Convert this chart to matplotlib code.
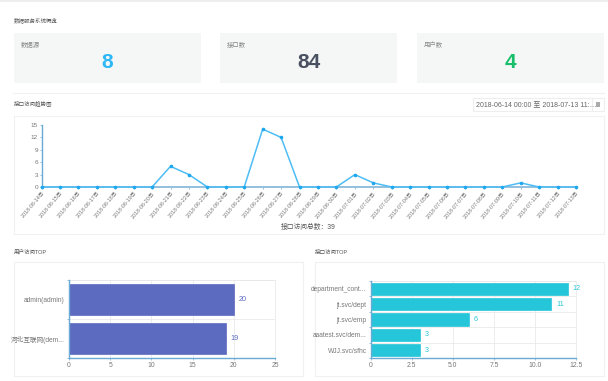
from matplotlib import pyplot as plt
from matplotlib.patches import Rectangle
import numpy as np

plt.rcParams["font.family"] = ["Liberation Sans", "Noto Sans CJK SC", "DejaVu Sans"]

W, H = 608, 381

# line chart data
DAYS = ["2018-06-%02d日" % d for d in range(14, 31)] + ["2018-07-%02d日" % d for d in range(1, 14)]
VISITS = [0, 0, 0, 0, 0, 0, 0, 5, 3, 0, 0, 0, 14, 12, 0, 0, 0, 3, 1, 0, 0, 0, 0, 0, 0, 0, 1, 0, 0, 0]

# top users
USERS = ["admin(admin)", "河北互联网(dem..."]
USER_VALUES = [20, 19]

# top interfaces
APIS = ["department_cont...", "jt.svc/dept", "jt.svc/emp", "aaatest.svc/dem...", "WJJ.svc/sfhc"]
API_VALUES = [12, 11, 6, 3, 3]

# summary cards
CARD_LABELS = ["数据源", "接口数", "用户数"]
CARD_VALUES = ["8", "84", "4"]
CARD_COLORS = ["#2db7f5", "#495060", "#19be6b"]

GRID = "#e6e6e6"
AXIS = "#6aaad4"
TEXT = "#777777"


def px_axes(fig, x0, y0, x1, y1):
    # axes placed with pixel coords, y measured from the top
    return fig.add_axes([x0 / W, 1 - y1 / H, (x1 - x0) / W, (y1 - y0) / H])


def box(bg, x0, y0, x1, y1, fc="white", ec="#f0f0f0", lw=0.8):
    bg.add_patch(Rectangle((x0, y0), x1 - x0, y1 - y0, fc=fc, ec=ec, lw=lw))


def draw_background(bg):
    bg.set_xlim(0, W)
    bg.set_ylim(H, 0)
    bg.axis("off")

    bg.add_patch(Rectangle((0, 0), W, 1.5, fc="#eeeeee", ec="none"))
    bg.text(14, 20, "数据服务系统概览", fontsize=4.0, color="#555555", va="center")

    cards = [(13.5, 200.5), (220, 397), (417, 604)]
    for (x0, x1), label, value, color in zip(cards, CARD_LABELS, CARD_VALUES, CARD_COLORS):
        box(bg, x0, 33, x1, 83, fc="#f5f7f7", ec="none")
        bg.text(x0 + 7, 44.5, label, fontsize=4.6, color="#888888", va="center")
        bg.text((x0 + x1) / 2, 63, value, fontsize=15, color=color, va="center",
                ha="center", fontweight="bold")

    bg.plot([13, 604], [92.5, 92.5], color="#f0f0f0", lw=0.8)
    bg.text(14, 103, "接口访问趋势图", fontsize=4.0, color="#555555", va="center")
    box(bg, 473, 98, 592, 111, ec="#eeeeee")
    bg.text(476, 104.5, "2018-06-14 00:00 至 2018-07-13 11:…", fontsize=5.0, color="#666666",
            va="center")
    box(bg, 592, 98, 604, 111, ec="#eeeeee")
    bg.add_patch(Rectangle((595.5, 102), 4.5, 4.5, fc="#aaaaaa", ec="none"))

    box(bg, 13.5, 116, 604, 233.5)
    bg.text(308, 227, "接口访问总数：39", fontsize=4.9, color="#555555", ha="center", va="center")

    bg.text(14, 252, "用户访问TOP", fontsize=4.0, color="#555555", va="center")
    bg.text(315, 252, "接口访问TOP", fontsize=4.0, color="#555555", va="center")
    box(bg, 13.5, 262, 303, 376)
    box(bg, 315, 262, 604, 376)


def draw_line(ax):
    x = np.arange(len(DAYS))
    ax.plot(x, VISITS, color="#4dbdf5", lw=1.1, marker="o", ms=1.6, mec="#1fa8ef", mfc="#1fa8ef",
            clip_on=False, zorder=3)
    ax.set_xlim(0, len(DAYS) - 1)
    ax.set_ylim(0, 15)
    ax.set_yticks([0, 3, 6, 9, 12, 15])
    ax.set_xticks(x)
    ax.set_xticklabels(DAYS, rotation=50, ha="right", rotation_mode="anchor")
    ax.tick_params(axis="x", labelsize=3.9, length=1.5, width=0.5, color=AXIS, pad=1, labelcolor=TEXT)
    ax.tick_params(axis="y", labelsize=4.6, length=1.5, width=0.5, color=AXIS, pad=1, labelcolor=TEXT)
    for side in ["top", "right"]:
        ax.spines[side].set_visible(False)
    ax.spines["left"].set_color(AXIS)
    ax.spines["left"].set_linewidth(1.0)
    ax.spines["bottom"].set_color("#93c0df")
    ax.spines["bottom"].set_linewidth(1.4)
    ax.patch.set_alpha(0)


def draw_bars(ax, labels, values, color, text_color, xmax, xticks, xlabels, height, offset):
    y = np.arange(len(labels))
    ax.barh(y, values, height=height, color=color, edgecolor=color, lw=0.5, zorder=3)
    for yi, v in zip(y, values):
        ax.annotate(str(v), (v, yi), xytext=(offset, 0), textcoords="offset points", fontsize=5.2,
                    color=text_color, va="center", annotation_clip=False, zorder=5)
    ax.set_xlim(0, xmax)
    ax.set_ylim(len(labels) - 0.5, -0.5)
    ax.set_xticks(xticks)
    ax.set_xticklabels(xlabels)
    ax.set_yticks(np.arange(len(labels) + 1) - 0.5, minor=True)
    ax.set_yticks(y)
    ax.set_yticklabels(labels)
    ax.grid(True, axis="x", color=GRID, lw=0.5, zorder=0)
    ax.grid(True, axis="y", which="minor", color=GRID, lw=0.5, zorder=0)
    ax.tick_params(axis="x", labelsize=4.9, length=1.5, width=0.5, color=AXIS, pad=1.5, labelcolor=TEXT)
    ax.tick_params(axis="y", which="major", labelsize=4.8, length=0, pad=3, labelcolor=TEXT)
    ax.tick_params(axis="y", which="minor", length=1.5, width=0.5, color=AXIS)
    ax.spines["top"].set_color(GRID)
    ax.spines["right"].set_color(GRID)
    ax.spines["top"].set_linewidth(0.5)
    ax.spines["right"].set_linewidth(0.5)
    for side in ["left", "bottom"]:
        ax.spines[side].set_color(AXIS)
        ax.spines[side].set_linewidth(1.0)
        ax.spines[side].set_zorder(4)


def main():
    fig = plt.figure(figsize=(W / 100, H / 100), dpi=100, facecolor="white")

    bg = fig.add_axes([0, 0, 1, 1])
    draw_background(bg)

    draw_line(px_axes(fig, 41.5, 125, 576, 187))

    draw_bars(px_axes(fig, 69, 280, 275, 358), USERS, USER_VALUES, "#5c6bc0", "#5c6bc0",
              25, [0, 5, 10, 15, 20, 25], ["0", "5", "10", "15", "20", "25"], 0.8, 3.5)

    draw_bars(px_axes(fig, 370.7, 281, 576, 358), APIS, API_VALUES, "#26c6da", "#26c6da",
              12.5, [0, 2.5, 5, 7.5, 10, 12.5], ["0", "2.5", "5.0", "7.5", "10.0", "12.5"], 0.8, 3.5)

    fig.savefig("out.png", dpi=100)


if __name__ == "__main__":
    main()
